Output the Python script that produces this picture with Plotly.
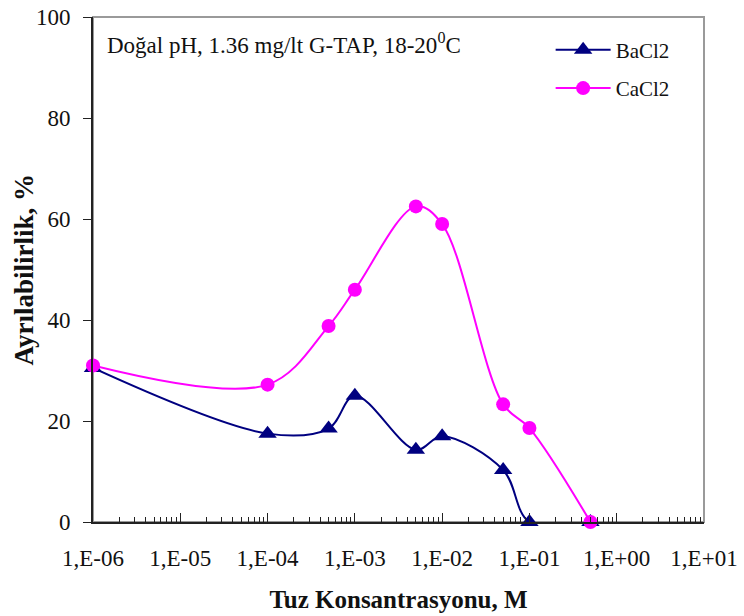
import plotly.graph_objects as go

conc = [1e-6, 1e-4, 5e-4, 1e-3, 5e-3, 1e-2, 5e-2, 1e-1, 5e-1]
bacl2 = [30.5, 17.5, 18.5, 25.0, 14.3, 17.0, 10.3, 0.0, 0.0]
cacl2 = [31.0, 27.2, 38.8, 46.0, 62.5, 59.0, 23.3, 18.6, 0.0]

x_tickvals = [1e-6, 1e-5, 1e-4, 1e-3, 1e-2, 1e-1, 1e0, 1e1]
x_ticktext = ["1,E-06", "1,E-05", "1,E-04", "1,E-03", "1,E-02", "1,E-01", "1,E+00", "1,E+01"]
x_minor_vals = [m * d for d in x_tickvals[:-1] for m in range(2, 10)]
y_tickvals = [0, 20, 40, 60, 80, 100]

SERIF = "Liberation Serif, Times New Roman, serif"
TXT = "#111111"

fig = go.Figure()
fig.add_trace(go.Scatter(
    x=conc, y=bacl2, name="BaCl2", mode="lines+markers",
    line=dict(color="#000080", width=2, shape="spline", smoothing=1),
    marker=dict(symbol="triangle-up", size=16, color="#000080"),
    legendgroup="a", cliponaxis=False,
))
fig.add_trace(go.Scatter(
    x=conc, y=cacl2, name="CaCl2", mode="lines+markers",
    line=dict(color="#FF00FF", width=2, shape="spline", smoothing=1),
    marker=dict(symbol="circle", size=14, color="#FF00FF"),
    legendgroup="b", cliponaxis=False,
))

fig.add_shape(type="rect", xref="paper", yref="paper", x0=0, y0=0, x1=1, y1=1,
              line=dict(color="#9a9a9a", width=2), layer="below")

fig.add_annotation(
    x=0.02, y=0.948, xref="paper", yref="paper", xanchor="left", yanchor="middle",
    text="Doğal pH, 1.36 mg/lt G-TAP, 18-20<sup>0</sup>C", showarrow=False,
    font=dict(family=SERIF, size=23, color=TXT),
)

# y-axis title
fig.add_annotation(
    x=-0.113, y=0.5, xref="paper", yref="paper", xanchor="center", yanchor="middle",
    text="<b>Ayrılabilirlik, %</b>", textangle=-90, showarrow=False,
    font=dict(family=SERIF, size=27, color=TXT),
)

fig.update_layout(
    width=744, height=616,
    margin=dict(l=93, r=40, t=17, b=94),
    paper_bgcolor="white", plot_bgcolor="white",
    font=dict(family=SERIF, size=21, color=TXT),
    showlegend=True,
    legend=dict(x=0.749, y=0.975, xanchor="left", yanchor="top",
                font=dict(family=SERIF, size=21, color=TXT),
                bgcolor="rgba(0,0,0,0)", tracegroupgap=8, itemwidth=55),
    xaxis=dict(
        type="log", range=[-6, 1], automargin=False,
        tickvals=x_tickvals, ticktext=x_ticktext,
        ticks="inside", ticklen=9, tickwidth=1, tickcolor="#222",
        minor=dict(tickmode="array", tickvals=x_minor_vals, ticks="inside",
                   ticklen=5, tickwidth=1, tickcolor="#222", showgrid=False),
        showline=True, linecolor="#222", linewidth=2,
        showgrid=False, zeroline=False,
        ticklabelstandoff=14,
        tickfont=dict(family=SERIF, size=23, color=TXT),
        title=dict(text="<b>Tuz Konsantrasyonu, M</b>", standoff=21,
                   font=dict(family=SERIF, size=25, color=TXT)),
    ),
    yaxis=dict(
        range=[0, 100], tickvals=y_tickvals, automargin=False,
        ticks="outside", ticklen=8, tickwidth=1, tickcolor="#222",
        showline=True, linecolor="#222", linewidth=2,
        showgrid=False, zeroline=False,
        ticklabelstandoff=8,
        tickfont=dict(family=SERIF, size=23, color=TXT),
    ),
)

fig.write_html("out.html")
